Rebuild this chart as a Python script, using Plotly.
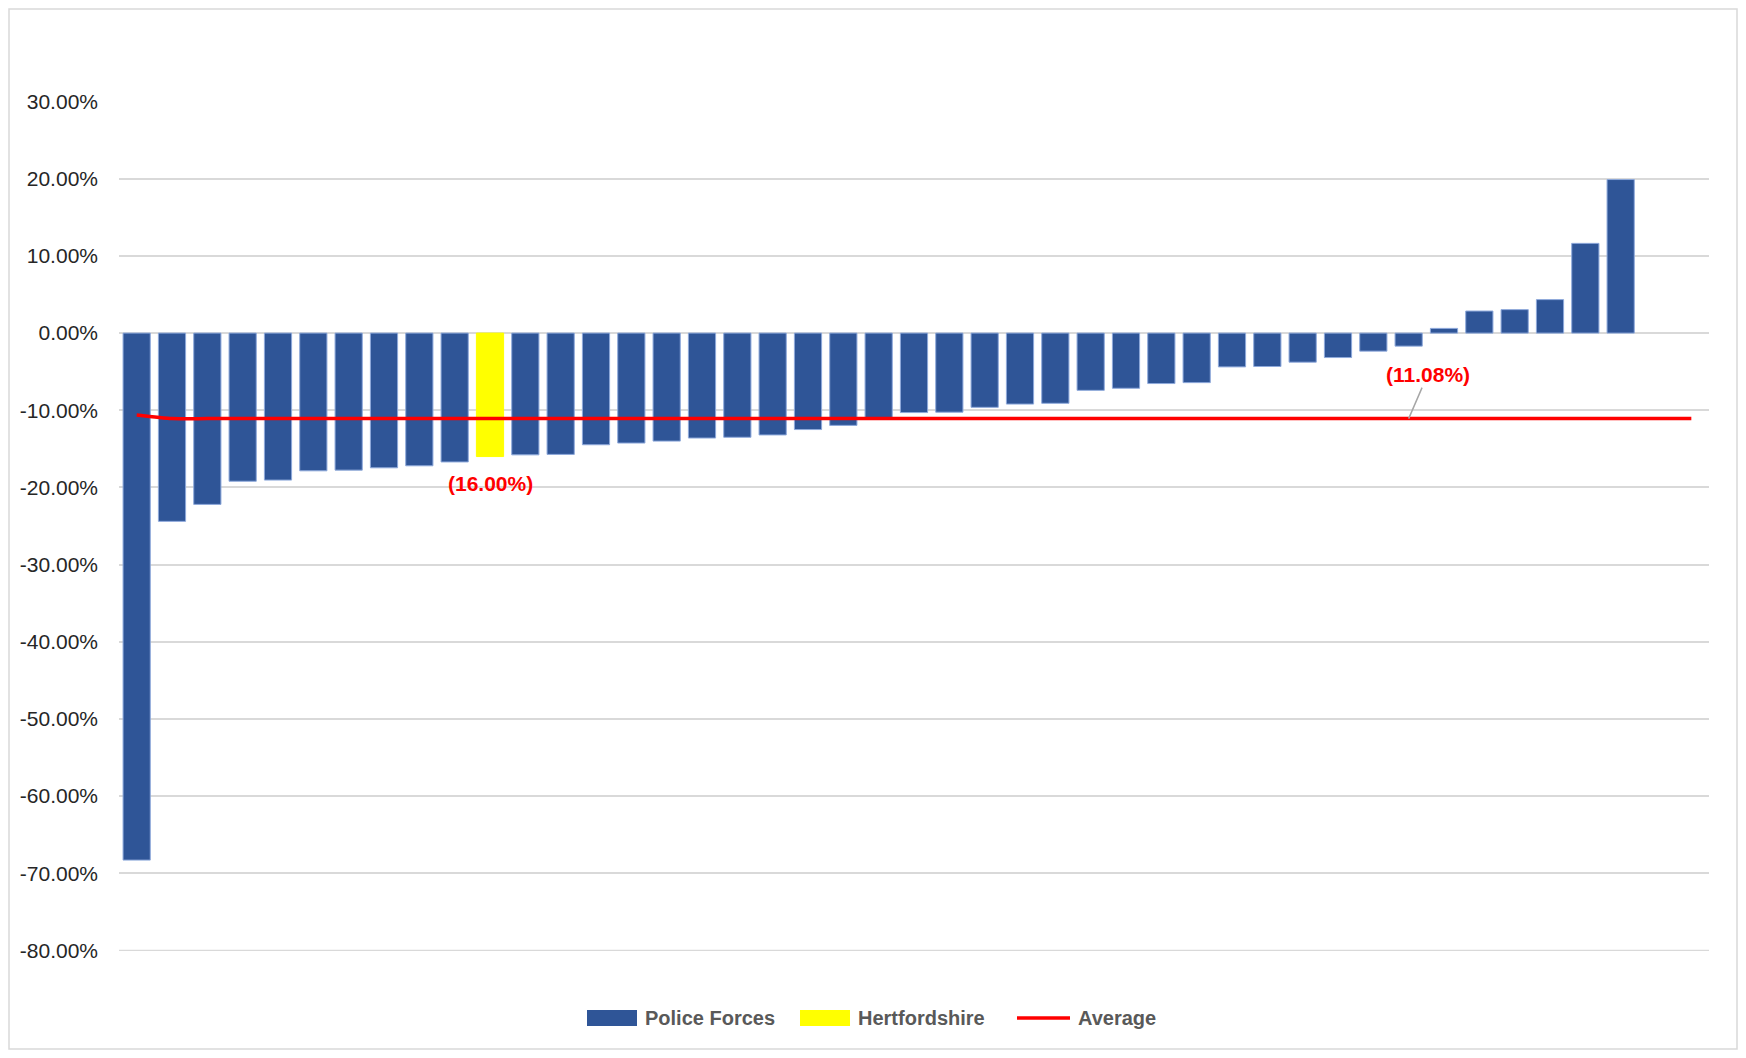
import plotly.graph_objects as go

# ---- data ----
categories = [f"Force {i}" for i in range(1, 46)]
police_values = [-68.3, -24.4, -22.2, -19.2, -19.05, -17.85, -17.76, -17.46, -17.2, -16.7,
                 None, -15.78, -15.72, -14.47, -14.25, -14.0, -13.6, -13.5, -13.2, -12.5,
                 -11.96, -10.95, -10.3, -10.25, -9.62, -9.2, -9.1, -7.42, -7.15, -6.54,
                 -6.42, -4.38, -4.33, -3.77, -3.17, -2.34, -1.69, 0.61, 2.86, 3.04,
                 4.34, 11.63, 19.9, None, None]
herts_values = [None] * 10 + [-16.0] + [None] * 34
average_values = [-10.6] + [-11.08] * 44
y_ticks = [30, 20, 10, 0, -10, -20, -30, -40, -50, -60, -70, -80]
herts_label = "(16.00%)"
avg_label = "(11.08%)"
legend_names = ["Police Forces", "Hertfordshire", "Average"]
legend_colors = ["#2F5597", "#FFFF00", "#FF0000"]

# page is rendered with an 8px body margin; figure sized to fit the window
OFF = 8
PAGE_W, PAGE_H = 1746, 1058
W, H = PAGE_W - 2 * OFF, PAGE_H - 2 * OFF
PLOT_L, PLOT_R, PLOT_T, PLOT_B = 119, 1709, 101, 951  # page px
ML, MT = PLOT_L - OFF, PLOT_T - OFF
MR, MB = W + OFF - PLOT_R, H + OFF - PLOT_B
PW, PH = PLOT_R - PLOT_L, PLOT_B - PLOT_T

def px_x(p):
    return (p - PLOT_L) / PW

def px_y(p):
    return (PLOT_B - p) / PH

fig = go.Figure()
fig.add_trace(go.Bar(
    x=categories, y=police_values, name=legend_names[0],
    marker=dict(color=legend_colors[0], line=dict(color="#8EA9DB", width=1)),
))
fig.add_trace(go.Bar(
    x=categories, y=herts_values, name=legend_names[1],
    marker=dict(color=legend_colors[1], line=dict(color="#FFFF00", width=1)),
))
fig.add_trace(go.Scatter(
    x=categories, y=average_values, name=legend_names[2], mode="lines",
    line=dict(color=legend_colors[2], width=3.5, shape="spline", smoothing=0.6),
))

lab_font = dict(family="Liberation Sans", size=21, color="#FF0000")
fig.add_annotation(
    x=categories[10], y=-19.45, text=f"<b>{herts_label}</b>", showarrow=False,
    font=lab_font, xanchor="center", yanchor="middle",
)
fig.add_annotation(
    x=categories[36], y=average_values[36], text=f"<b>{avg_label}</b>", showarrow=True,
    ax=19, ay=-44, arrowhead=0, arrowwidth=1.5, arrowcolor="#A6A6A6", standoff=0,
    font=lab_font,
)

# chart border
fig.add_shape(
    type="rect", xref="paper", yref="paper",
    x0=px_x(OFF + 1), x1=px_x(PAGE_W - OFF - 1), y0=px_y(PAGE_H - OFF - 1), y1=px_y(OFF + 1),
    line=dict(color="#D9D9D9", width=1.5), fillcolor="rgba(0,0,0,0)", layer="below",
)
# bottom gridline at the axis minimum
fig.add_shape(
    type="line", xref="paper", yref="y", x0=0, x1=1, y0=y_ticks[-1], y1=y_ticks[-1],
    line=dict(color="#D9D9D9", width=1.5), layer="below",
)

# custom legend (wide swatches like the original)
leg_y = 1018
swatch_x = [587, 800, 1017]
text_x = [643, 856, 1076]
for i, name in enumerate(legend_names):
    if i < 2:
        fig.add_shape(
            type="rect", xref="paper", yref="paper",
            x0=px_x(swatch_x[i]), x1=px_x(swatch_x[i] + 50),
            y0=px_y(leg_y + 8), y1=px_y(leg_y - 8),
            fillcolor=legend_colors[i], line=dict(width=0),
        )
    else:
        fig.add_shape(
            type="line", xref="paper", yref="paper",
            x0=px_x(swatch_x[i]), x1=px_x(swatch_x[i] + 53),
            y0=px_y(leg_y), y1=px_y(leg_y),
            line=dict(color=legend_colors[i], width=3.5),
        )
    fig.add_annotation(
        xref="paper", yref="paper", x=px_x(text_x[i]), y=px_y(leg_y),
        text=f"<b>{name}</b>", showarrow=False, xanchor="left", yanchor="middle",
        font=dict(family="Liberation Sans", size=20, color="#595959"),
    )

fig.update_layout(
    width=W, height=H,
    margin=dict(l=ML, r=MR, t=MT, b=MB, autoexpand=False),
    paper_bgcolor="white", plot_bgcolor="white",
    barmode="overlay", bargap=0.23,
    showlegend=False,
    font=dict(family="Liberation Sans", color="#262626"),
)
fig.update_xaxes(
    type="category", showticklabels=False, showgrid=False, zeroline=False,
    showline=False, ticks="", range=[-0.5, 44.5], fixedrange=True,
)
fig.update_yaxes(
    range=[-80.08, 30.08], tickvals=y_ticks, ticktext=[f"{v:.2f}%" for v in y_ticks],
    showgrid=True, gridcolor="#D9D9D9", gridwidth=1.5,
    zeroline=True, zerolinecolor="#D9D9D9", zerolinewidth=1.5,
    showline=False, ticks="", ticklabelstandoff=20,
    tickfont=dict(family="Liberation Sans", size=21, color="#262626"),
    fixedrange=True,
)

fig.write_html("out.html")
